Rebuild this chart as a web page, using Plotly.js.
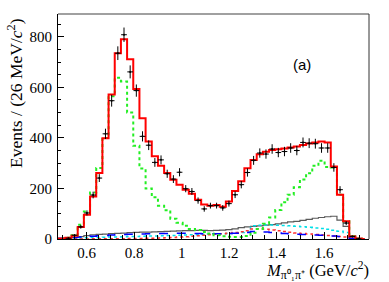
<!DOCTYPE html>
<html><head><meta charset="utf-8">
<script src="https://cdn.plot.ly/plotly-3.0.1.min.js"></script>
<style>html,body{margin:0;padding:0;background:#fff}#c{width:389px;height:282px}</style>
</head><body><div id="c"></div>
<script>
// bin centres (26 MeV bins)
var binX = [0.471,0.497,0.523,0.549,0.575,0.601,0.627,0.653,0.679,0.705,0.731,0.757,0.783,0.809,0.835,0.861,0.887,0.913,0.939,0.965,0.991,1.017,1.043,1.069,1.095,1.121,1.147,1.173,1.199,1.225,1.251,1.277,1.303,1.329,1.355,1.381,1.407,1.433,1.459,1.485,1.511,1.537,1.563,1.589,1.615,1.641,1.667,1.693,1.719,1.745,1.771];
var dataX = [0.523,0.549,0.575,0.601,0.627,0.653,0.679,0.705,0.731,0.757,0.783,0.809,0.835,0.861,0.887,0.913,0.939,0.965,0.991,1.017,1.043,1.069,1.095,1.121,1.147,1.173,1.199,1.225,1.251,1.277,1.303,1.329,1.355,1.381,1.407,1.433,1.459,1.485,1.511,1.537,1.563,1.589,1.615,1.641,1.667,1.693,1.719,1.745];
var dataY = [3,15,48,103,174,241,416,547,735,808,661,587,406,371,303,313,258,237,264,199,188,152,119,132,132,123,140,175,215,263,311,340,336,356,342,346,360,350,382,379,377,360,360,283,195,63,10,1];
var totalFit = [1,2,5,13,47,96,168,261,399,572,735,790,711,593,478,386,327,290,261,234,215,195,179,155,136,132,134,128,148,190,228,280,312,335,345,352,355,358,362,366,372,378,382,386,382,287,175,70,10,2,0];
var greenComp = [1,2,5,15,56,109,184,281,400,565,638,623,500,369,279,200,165,132,114,80,64,52,40,36,28,22,15,11,9,8,8,12,25,40,60,85,115,145,175,205,235,260,290,310,285,283,175,70,12,2,0];
var grayComp = [0,1,3,6,9,13,16,18,19,21,22,23,25,26,27,27,28,29,30,31,32,33,33,34,34,33,34,35,37,40,45,48,50,52,55,57,60,64,68,70,74,78,82,85,88,90,75,50,12,2,0];
var cyanComp = [0,1,2,3,4,5,6,6,7,8,8,9,10,10,11,12,12,13,14,14,15,16,17,17,18,19,20,21,22,24,26,28,52,54,55,55,54,53,52,50,48,46,44,42,39,35,31,26,6,1,0];
var redDotComp = [0,0,0,0,0,0,1,1,1,1,1,1,2,2,2,3,3,4,5,6,8,9,11,13,15,17,19,21,23,26,29,33,40,41,39,36,33,30,27,24,22,20,18,16,14,12,10,8,3,1,0];
var blueComp = [2,3,5,6,8,10,11,13,14,16,17,18,19,20,20,21,21,22,22,22,23,23,22,22,21,21,21,21,22,23,24,26,30,30,28,26,24,22,21,19,18,17,16,15,14,12,10,8,3,1,0];
var xTicks = [0.6,0.8,1.0,1.2,1.4,1.6];
var xTickText = ['0.6','0.8','1','1.2','1.4','1.6'];
var yTicks = [0,200,400,600,800];

function hist(y, color, width, dash){
  return {x: binX, y: y, type:'scatter', mode:'lines', line:{shape:'hvh', color:color, width:width, dash:dash}, hoverinfo:'skip', showlegend:false};
}
var traces = [
  hist(grayComp, '#5a5a5a', 1.2, 'solid'),
  hist(cyanComp, '#00e0e8', 1.5, 'dot'),
  hist(redDotComp, '#ff3030', 1.5, 'dot'),
  hist(blueComp, '#0000ff', 1.5, 'dash'),
  hist(greenComp, '#22ee22', 2, 'dot'),
  hist(totalFit, '#ff0000', 2, 'solid'),
  {x: dataX, y: dataY, type:'scatter', mode:'markers', marker:{size:2, color:'#000'},
   error_y:{type:'sqrt', color:'#000', thickness:1, width:0},
   error_x:{type:'constant', value:0.012, color:'#000', thickness:1, width:0},
   showlegend:false, hoverinfo:'skip', cliponaxis:true}
];
var tickFont = {family:'Liberation Serif, serif', size:15, color:'#000'};
var layout = {
  width:389, height:282,
  margin:{l:58, r:20, t:14, b:43},
  paper_bgcolor:'#fff', plot_bgcolor:'#fff',
  showlegend:false,
  xaxis:{range:[0.479,1.789], tickvals:xTicks, ticktext:xTickText, ticks:'inside', ticklen:7, tickwidth:1, tickcolor:'#000',
    minor:{dtick:0.05, tick0:0, ticks:'inside', ticklen:4, tickcolor:'#000'},
    showgrid:false, zeroline:false, showline:true, linecolor:'#000', linewidth:1, mirror:false,
    tickfont:tickFont, ticklabelstandoff:0},
  yaxis:{range:[0,890], tickvals:yTicks, ticks:'inside', ticklen:6, tickwidth:1, tickcolor:'#000',
    minor:{dtick:50, tick0:0, ticks:'inside', ticklen:3, tickcolor:'#000'},
    showgrid:false, zeroline:false, showline:true, linecolor:'#000', linewidth:1,
    tickfont:tickFont, ticklabelstandoff:2},
  shapes:[
    {type:'line', xref:'paper', yref:'paper', x0:0, x1:1, y0:1, y1:1, line:{color:'#808080', width:1.5}},
    {type:'line', xref:'paper', yref:'paper', x0:1, x1:1, y0:0, y1:1, line:{color:'#333', width:1}}
  ],
  annotations:[
    {text:'1.8', x:1.8, xref:'x', y:0, yref:'paper', yanchor:'top', xanchor:'center', yshift:0, showarrow:false, font:tickFont},
    {text:'Events / (26 MeV/<i>c</i><sup>2</sup>)', xref:'paper', x:0, xshift:-43, xanchor:'center', yref:'paper', y:1, yanchor:'top', yshift:-2, textangle:-90, showarrow:false, font:{family:'Liberation Serif, serif', size:17.5, color:'#000'}},
    {text:'<i>M</i><sub><span style="font-size:12px">π⁰₁π⁺</span></sub> (GeV/<i>c</i><sup>2</sup>)', xref:'paper', x:1, xanchor:'right', xshift:2, yref:'paper', y:0, yanchor:'top', yshift:-18, showarrow:false, font:{family:'Liberation Serif, serif', size:16.5, color:'#000'}},
    {text:'(a)', xref:'paper', x:(302-58)/311, xanchor:'center', yref:'paper', y:(239-64)/225, yanchor:'middle', showarrow:false, font:{family:'Liberation Sans, Arial, sans-serif', size:15, color:'#000'}}
  ]
};
Plotly.newPlot('c', traces, layout, {staticPlot:true, displayModeBar:false});
</script></body></html>
